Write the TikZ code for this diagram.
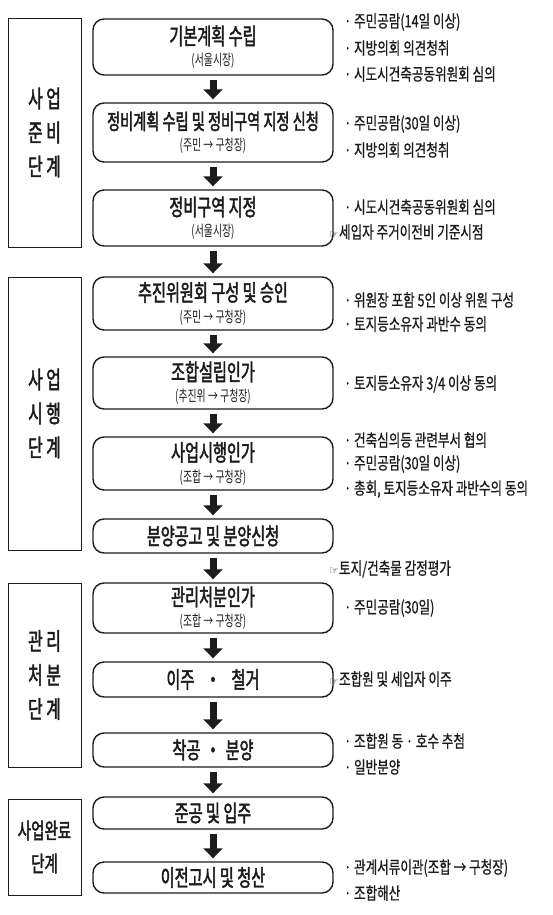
\documentclass[tikz,border=0pt]{standalone}
\usepackage{fontspec}
\setmainfont{Noto Sans CJK KR}[FakeStretch=0.66]
\newfontfamily\titlefont{Noto Sans CJK KR}[FakeStretch=0.66, FakeBold=2]
\newfontfamily\notefont{Noto Sans CJK KR}[FakeStretch=0.74, FakeBold=0.8]
\newfontfamily\symbolfont{DejaVu Sans}
\usetikzlibrary{positioning, arrows.meta}
\definecolor{InkBlack}{RGB}{28, 28, 28}

\tikzset{
  stepbox/.style={draw=InkBlack, line width=1.4pt, rounded corners=11pt,
                  minimum width=240pt, inner sep=0pt, align=center, text=InkBlack,
                  font=\fontsize{15}{21}\selectfont},
  stagebox/.style={draw=InkBlack, line width=0.9pt, minimum width=73pt,
                   inner sep=0pt, align=center, text=InkBlack,
                   font=\titlefont\fontsize{24}{34}\selectfont},
  flowarrow/.style={draw=InkBlack, line width=7pt,
                    -{Triangle[width=19pt, length=10pt]},
                    shorten <=4pt, shorten >=3pt},
  note/.style={anchor=west, inner sep=0pt, text=InkBlack,
               font=\notefont\fontsize{17}{18}\selectfont},
}
\newcommand{\steptitle}[2]{{\titlefont\fontsize{23}{21}\selectfont #1}\\
  {\fontsize{15}{21}\selectfont #2}}
\newcommand{\hand}{{\symbolfont\fontsize{11}{11}\selectfont ☞}}

\begin{document}
\begin{tikzpicture}[x=1pt, y=-1pt]
  \useasboundingbox (0,0) rectangle (552,915);

  % Stage boxes on the left
  \node[stagebox, minimum height=229pt] (s1) at (44.5,132.5) {사 업\\준 비\\단 계};
  \node[stagebox, minimum height=273pt] (s2) at (44.5,413.5) {사 업\\시 행\\단 계};
  \node[stagebox, minimum height=184pt] (s3) at (44.5,675) {관 리\\처 분\\단 계};
  \node[stagebox, minimum height=96pt,
        font=\titlefont\fontsize{22}{33}\selectfont] (s4) at (44.5,847) {사업완료\\단계};

  % Process steps
  \node[stepbox, minimum height=56pt] (b1) at (213,47) {\steptitle{기본계획 수립}{(서울시장)}};
  \node[stepbox, minimum height=59pt] (b2) at (213,132.5)
    {{\titlefont\fontsize{21.5}{21}\selectfont 정비계획 수립 및 정비구역 지정 신청}\\
     {\fontsize{15}{21}\selectfont (주민 → 구청장)}};
  \node[stepbox, minimum height=56pt] (b3) at (213,218) {\steptitle{정비구역 지정}{(서울시장)}};
  \node[stepbox, minimum height=53pt] (b4) at (213,303.5) {\steptitle{추진위원회 구성 및 승인}{(주민 → 구청장)}};
  \node[stepbox, minimum height=52pt] (b5) at (213,383) {\steptitle{조합설립인가}{(추진위 → 구청장)}};
  \node[stepbox, minimum height=53pt] (b6) at (213,463.5) {\steptitle{사업시행인가}{(조합 → 구청장)}};
  \node[stepbox, minimum height=34pt, font=\titlefont\fontsize{23}{24}\selectfont]
    (b7) at (213,536) {분양공고 및 분양신청};
  \node[stepbox, minimum height=50pt] (b8) at (213,608) {\steptitle{관리처분인가}{(조합 → 구청장)}};
  \node[stepbox, minimum height=35pt, font=\titlefont\fontsize{23}{24}\selectfont]
    (b9) at (213,679.5) {이주\hspace{11pt}・\hspace{11pt}철거};
  \node[stepbox, minimum height=34pt, font=\titlefont\fontsize{23}{24}\selectfont]
    (b10) at (213,750) {착공\hspace{5pt}・\hspace{5pt}분양};
  \node[stepbox, minimum height=32pt, font=\titlefont\fontsize{23}{24}\selectfont]
    (b11) at (213,813) {준공 및 입주};
  \node[stepbox, minimum height=31pt, font=\titlefont\fontsize{23}{24}\selectfont]
    (b12) at (213,877.5) {이전고시 및 청산};

  % Arrows between steps
  \foreach \i [evaluate=\i as \j using int(\i+1)] in {1,...,11} {
    \draw[flowarrow] (b\i.south) -- (b\j.north);
  }

  % Notes on the right
  \foreach \k/\x/\y/\t in {1/344/22/{· 주민공람(14일 이상)},
                           2/344/48/{· 지방의회 의견청취},
                           3/344/74/{· 시도시건축공동위원회 심의},
                           4/344/124/{· 주민공람(30일 이상)},
                           5/344/150/{· 지방의회 의견청취},
                           6/344/207/{· 시도시건축공동위원회 심의},
                           7/329/232/{\hand 세입자 주거이전비 기준시점},
                           8/344/300/{· 위원장 포함 5인 이상 위원 구성},
                           9/344/324/{· 토지등소유자 과반수 동의},
                           10/344/384/{· 토지등소유자 3/4 이상 동의},
                           11/344/440/{· 건축심의등 관련부서 협의},
                           12/344/464/{· 주민공람(30일 이상)},
                           13/344/489/{· 총회, 토지등소유자 과반수의 동의},
                           14/329/569/{\hand 토지/건축물 감정평가},
                           15/344/608/{· 주민공람(30일)},
                           16/329/679/{\hand 조합원 및 세입자 이주},
                           17/344/741/{· 조합원 동 · 호수 추첨},
                           18/344/767/{· 일반분양},
                           19/344/868/{· 관계서류이관(조합 → 구청장)},
                           20/344/893/{· 조합해산}} {
    \node[note] (n\k) at (\x,\y) {\t};
  }
\end{tikzpicture}
\end{document}
